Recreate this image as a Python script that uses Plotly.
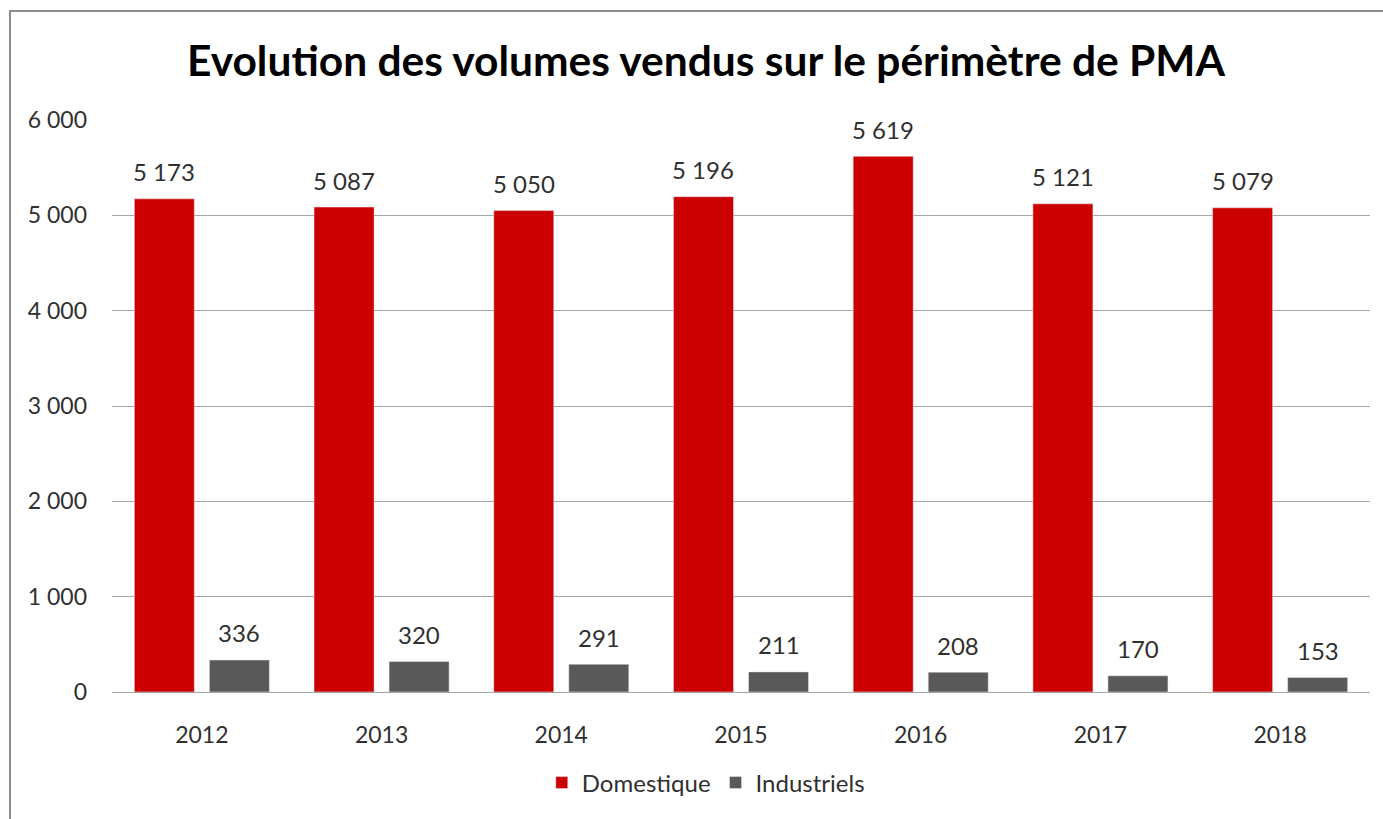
import plotly.graph_objects as go

years = ["2012", "2013", "2014", "2015", "2016", "2017", "2018"]
domestique = [5173, 5087, 5050, 5196, 5619, 5121, 5079]
industriels = [336, 320, 291, 211, 208, 170, 153]
y_ticks = [0, 1000, 2000, 3000, 4000, 5000, 6000]

FONT = "Lato"
TXT = "#303030"
RED = "#CC0000"
GREY = "#595959"

BARGAP = 0.165
GROUPGAP = 0.2

fig = go.Figure()
fig.add_bar(x=years, y=domestique, name="Domestique", marker_color=RED)
fig.add_bar(x=years, y=industriels, name="Industriels", marker_color=GREY)

# data labels (above each bar); category index positions on the x axis
W = 1383 - 112 - 13
slot = W / len(years) * (1 - BARGAP) / 2
for series, shift in ((domestique, -slot / 2), (industriels, slot / 2)):
    for i, v in enumerate(series):
        fig.add_annotation(x=i, y=v, xref="x", yref="y", text=f"{v:,}".replace(",", " "),
                           showarrow=False, xshift=shift, yshift=27, yanchor="middle",
                           font=dict(family=FONT, size=24, color=TXT))

fig.update_layout(
    width=1383, height=819,
    margin=dict(l=112, r=13, t=120, b=127),
    paper_bgcolor="white", plot_bgcolor="white",
    separators=", ",
    barmode="group", bargap=BARGAP, bargroupgap=GROUPGAP,
    title=dict(text="<b>Evolution des volumes vendus sur le périmètre de PMA</b>",
               x=0.5105, xanchor="center", y=1 - 61 / 819, yanchor="middle",
               font=dict(family=FONT, size=42.5, color="black")),
    font=dict(family=FONT, size=23, color=TXT),
    legend=dict(orientation="h", x=0.472, xanchor="center", y=-0.159, yanchor="middle",
                font=dict(family=FONT, size=24, color=TXT), itemwidth=30,
                traceorder="normal"),
    showlegend=True,
)
fig.update_yaxes(range=[0, 6000], tickvals=y_ticks, tickformat=",d",
                 showgrid=True, gridcolor="#A6A6A6", gridwidth=1,
                 zeroline=False, showline=False, ticks="",
                 ticklabelstandoff=24, tickfont=dict(family=FONT, size=23, color=TXT))
fig.update_xaxes(type="category", range=[-0.5, len(years) - 0.5],
                 showline=True, linecolor="#A6A6A6", linewidth=1, ticks="",
                 ticklabelstandoff=22, tickfont=dict(family=FONT, size=23, color=TXT))

# chart border
fig.add_shape(type="rect", xref="paper", yref="paper",
              x0=(10 - 112) / W, x1=1.2, y0=-0.4, y1=(692 - 11) / 572,
              line=dict(color="#8C8C8C", width=2), fillcolor="rgba(0,0,0,0)", layer="below")

fig.write_html("out.html", config={"displayModeBar": False},
               post_script="document.body.style.margin='0';")
